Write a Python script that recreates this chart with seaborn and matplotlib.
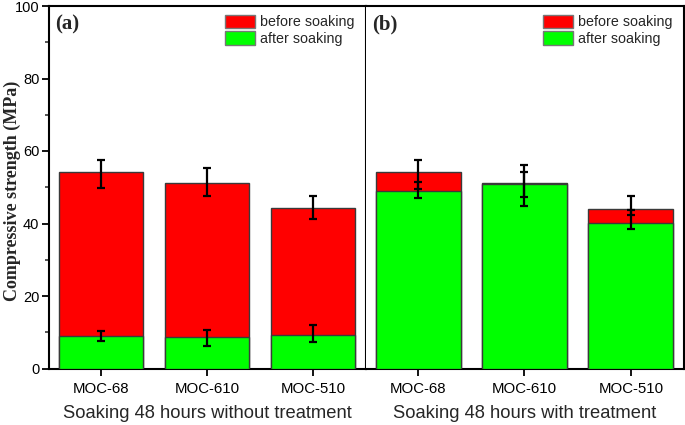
import matplotlib
matplotlib.use("Agg")
import matplotlib.pyplot as plt
import seaborn as sns
from matplotlib.patches import Patch
from matplotlib.ticker import MultipleLocator

categories = ["MOC-68", "MOC-610", "MOC-510"]

# Panel (a): soaking 48 hours without treatment
before_a = [54.2, 51.2, 44.2]
before_a_err_low = [4.5, 3.6, 2.9]
before_a_err_up = [3.4, 4.1, 3.4]
after_a = [9.0, 8.75, 9.2]
after_a_err_low = [1.5, 2.5, 1.8]
after_a_err_up = [1.3, 1.75, 2.7]

# Panel (b): soaking 48 hours with treatment
before_b = [54.2, 51.2, 44.1]
before_b_err_low = [4.7, 3.8, 1.8]
before_b_err_up = [3.3, 5.0, 3.5]
after_b = [49.1, 50.9, 40.2]
after_b_err_low = [2.1, 6.0, 1.7]
after_b_err_up = [2.3, 3.2, 3.4]

xlabels = ["Soaking 48 hours without treatment", "Soaking 48 hours with treatment"]
panel_tags = ["(a)", "(b)"]
legend_labels = ["before soaking", "after soaking"]

RED = "#ff0000"
GREEN = "#00ff00"
EDGE = "#3a3a3a"

sns.set_style("ticks")
plt.rcParams["font.family"] = ["Liberation Sans", "DejaVu Sans"]

fig = plt.figure(figsize=(6.85, 4.25), dpi=100)
L, R, B, T = 49 / 685, 684 / 685, (425 - 368.5) / 425, (425 - 6) / 425
mid = 366 / 685
ax1 = fig.add_axes([L, B, mid - L, T - B])
ax2 = fig.add_axes([mid, B, R - mid, T - B], sharey=ax1)

panels = [
    (ax1, before_a, before_a_err_low, before_a_err_up, after_a, after_a_err_low, after_a_err_up),
    (ax2, before_b, before_b_err_low, before_b_err_up, after_b, after_b_err_low, after_b_err_up),
]

for i, (ax, bef, bl, bu, aft, al, au) in enumerate(panels):
    sns.barplot(x=categories, y=bef, color=RED, saturation=1, edgecolor=EDGE,
                linewidth=1.0, width=0.8, ax=ax, zorder=2)
    sns.barplot(x=categories, y=aft, color=GREEN, saturation=1, edgecolor=EDGE,
                linewidth=1.0, width=0.8, ax=ax, zorder=3)
    pos = list(range(len(categories)))
    ax.errorbar(pos, bef, yerr=[bl, bu], fmt="none", ecolor="black",
                elinewidth=1.6, capsize=3.2, capthick=1.6, zorder=5)
    ax.errorbar(pos, aft, yerr=[al, au], fmt="none", ecolor="black",
                elinewidth=1.6, capsize=3.2, capthick=1.6, zorder=5)
    ax.set_xlim(-0.49, 2.5)
    ax.set_ylim(0, 100)
    for s in ax.spines.values():
        s.set_visible(True)
        s.set_linewidth(1.5)
        s.set_color("black")
    ax.tick_params(axis="x", direction="out", length=5, width=1.3, pad=5,
                   labelsize=10.8, colors="black")
    ax.set_xlabel(xlabels[i], fontsize=13.2, labelpad=6)
    ax.text(0.02, 0.95, panel_tags[i], transform=ax.transAxes, fontsize=15,
            fontweight="bold", family="Liberation Serif", va="center", ha="left")
    handles = [Patch(facecolor=RED, edgecolor="#777777", linewidth=1.0),
               Patch(facecolor=GREEN, edgecolor="#777777", linewidth=1.0)]
    ax.legend(handles, legend_labels, loc="upper right", frameon=False,
              fontsize=10.3, handlelength=2.1, handleheight=1.05,
              handletextpad=0.35, labelspacing=0.15, borderpad=0,
              borderaxespad=0, bbox_to_anchor=(0.965, 0.976))

ax1.yaxis.set_major_locator(MultipleLocator(20))
ax1.yaxis.set_minor_locator(MultipleLocator(10))
ax1.tick_params(axis="y", which="major", direction="out", length=5, width=1.3,
                labelsize=10.5, pad=2, colors="black")
ax1.tick_params(axis="y", which="minor", direction="out", length=3, width=1.1)
ax1.set_ylabel("Compressive strength (MPa)", fontsize=13, fontweight="bold",
               family="Liberation Serif")
ax1.yaxis.set_label_coords(-0.088, 0.49)
ax2.spines["left"].set_visible(False)
ax2.tick_params(axis="y", which="both", left=False, labelleft=False)
ax2.set_ylabel("")

fig.savefig("out.png", dpi=100)
